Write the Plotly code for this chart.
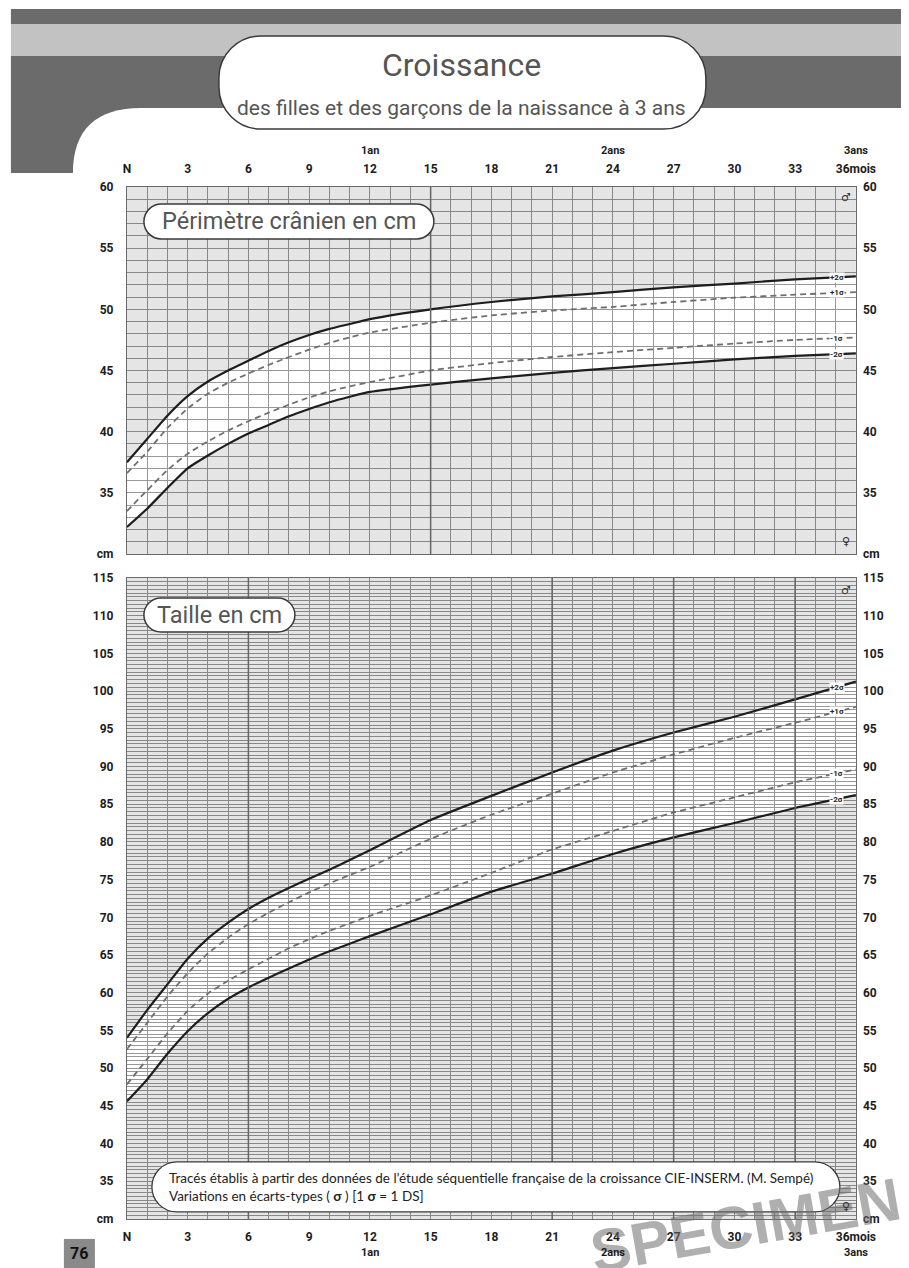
import numpy as np
import plotly.graph_objects as go

# Page-pixel positions below are those of the reference picture.
# Calibration measured on earlier renders: shown = 0.974*page + 3.3 (x), 0.989*page + 6.1 (y)
OFF = 8
SX, BX = 0.974, 3.3
SY, BY = 0.989, 6.1
W, H = 922, 1268

# ---------------- data ----------------
months = [0, 1, 2, 3, 4, 5, 6, 7, 8, 9, 10, 11, 12, 15, 18, 21, 24, 27, 30, 33, 36]

# Périmètre crânien (cm)
hc_p2 = [37.5, 39.4, 41.3, 42.9, 44.1, 45.0, 45.8, 46.6, 47.3, 47.9, 48.4, 48.8, 49.2, 50.0, 50.6, 51.05, 51.4, 51.8, 52.1, 52.45, 52.7]
hc_p1 = [36.6, 38.35, 40.3, 41.9, 43.1, 44.0, 44.75, 45.45, 46.1, 46.7, 47.25, 47.7, 48.1, 48.9, 49.5, 49.9, 50.2, 50.6, 50.95, 51.2, 51.4]
hc_m1 = [33.5, 35.2, 36.85, 38.2, 39.2, 40.1, 40.85, 41.55, 42.2, 42.8, 43.3, 43.7, 44.05, 45.0, 45.6, 46.1, 46.5, 46.85, 47.2, 47.5, 47.7]
hc_m2 = [32.2, 33.7, 35.4, 37.0, 38.05, 39.0, 39.85, 40.55, 41.25, 41.85, 42.4, 42.85, 43.25, 43.85, 44.35, 44.8, 45.2, 45.55, 45.9, 46.2, 46.4]

# Taille (cm)
ht_p2 = [54.0, 57.7, 61.1, 64.5, 67.2, 69.3, 71.1, 72.6, 73.9, 75.1, 76.3, 77.6, 78.9, 82.9, 86.1, 89.2, 92.1, 94.5, 96.6, 98.9, 101.25]
ht_p1 = [52.5, 56.0, 59.5, 62.6, 65.2, 67.3, 69.1, 70.6, 72.0, 73.3, 74.5, 75.6, 76.7, 80.4, 83.6, 86.4, 89.2, 91.6, 93.8, 95.8, 97.9]
ht_m1 = [47.85, 51.2, 54.6, 57.6, 59.9, 61.6, 63.1, 64.5, 65.9, 67.1, 68.2, 69.2, 70.2, 72.9, 75.9, 79.0, 81.45, 83.9, 85.9, 87.9, 89.6]
ht_m2 = [45.6, 48.5, 51.9, 54.9, 57.3, 59.2, 60.7, 62.0, 63.2, 64.4, 65.5, 66.5, 67.5, 70.4, 73.4, 75.8, 78.4, 80.6, 82.5, 84.5, 86.2]

x_tickvals = [0, 3, 6, 9, 12, 15, 18, 21, 24, 27, 30, 33, 36]
x_ticktext = ["N", "3", "6", "9", "12", "15", "18", "21", "24", "27", "30", "33", "36mois"]
year_marks = [12, 24, 36]
year_labels = ["1an", "2ans", "3ans"]

hc_range = [30, 60]
ht_range = [30, 115]
hc_tickvals = [30, 35, 40, 45, 50, 55, 60]
hc_ticktext = ["cm", "35", "40", "45", "50", "55", "60"]
ht_tickvals = list(range(30, 116, 5))
ht_ticktext = ["cm"] + [str(v) for v in range(35, 116, 5)]

sigma_labels = ["+2σ", "+1σ", "-1σ", "-2σ"]

# ---------------- helpers (layout, reference pixel -> paper) ----------------
def PX(x):
    return ((x - BX) / SX - OFF) / W

def PY(y):
    return 1 - ((y - BY) / SY - OFF) / H

def pt(x, y):
    return f"{PX(x):.5f},{PY(y):.5f}"

def rrect(x0, y0, x1, y1, r):
    k = 0.5523 * r
    return (f"M {pt(x0 + r, y0)} L {pt(x1 - r, y0)} "
            f"C {pt(x1 - r + k, y0)} {pt(x1, y0 + r - k)} {pt(x1, y0 + r)} "
            f"L {pt(x1, y1 - r)} "
            f"C {pt(x1, y1 - r + k)} {pt(x1 - r + k, y1)} {pt(x1 - r, y1)} "
            f"L {pt(x0 + r, y1)} "
            f"C {pt(x0 + r - k, y1)} {pt(x0, y1 - r + k)} {pt(x0, y1 - r)} "
            f"L {pt(x0, y0 + r)} "
            f"C {pt(x0, y0 + r - k)} {pt(x0 + r - k, y0)} {pt(x0 + r, y0)} Z")

PL, PR = 126, 855
TOP_T, TOP_B = 186, 553
BOT_T, BOT_B = 577, 1218

TICKFONT = dict(family="Roboto", size=12, color="#1c1c1c", weight="bold")
GRID = "#989898"
FILL_GRAY = "rgba(0,0,0,0.10)"
SMOOTH = 0.5

fig = go.Figure()

def add_chart(xa, ya, ya_r, series, rng):
    p2, p1, m1, m2 = series
    top = [rng[1]] * len(months)
    bot = [rng[0]] * len(months)
    fig.add_trace(go.Scatter(x=months, y=top, mode="lines", line=dict(width=0),
                             xaxis=xa, yaxis=ya, hoverinfo="skip", showlegend=False))
    fig.add_trace(go.Scatter(x=months, y=p2, mode="lines", line=dict(width=0, shape="spline", smoothing=SMOOTH),
                             fill="tonexty", fillcolor=FILL_GRAY,
                             xaxis=xa, yaxis=ya, hoverinfo="skip", showlegend=False))
    fig.add_trace(go.Scatter(x=months, y=m2, mode="lines", line=dict(width=0, shape="spline", smoothing=SMOOTH),
                             xaxis=xa, yaxis=ya, hoverinfo="skip", showlegend=False))
    fig.add_trace(go.Scatter(x=months, y=bot, mode="lines", line=dict(width=0),
                             fill="tonexty", fillcolor=FILL_GRAY,
                             xaxis=xa, yaxis=ya, hoverinfo="skip", showlegend=False))
    for vals, name in zip(series, sigma_labels):
        solid = name in ("+2σ", "-2σ")
        fig.add_trace(go.Scatter(
            x=months, y=vals, mode="lines", name=name, showlegend=False,
            line=dict(color="#1e1e1e" if solid else "#6f6f6f", width=2.2 if solid else 1.8,
                      dash="solid" if solid else "6px,4px", shape="spline", smoothing=SMOOTH),
            xaxis=xa, yaxis=ya))
        lx = 35.05
        ly = float(np.interp(lx, months, vals))
        fig.add_annotation(x=lx, y=ly, xref=xa, yref=ya, text=f"<b>{name}</b>", showarrow=False,
                           font=dict(family="Roboto", size=8, color="#222"),
                           bgcolor="white", borderpad=0)
    fig.add_trace(go.Scatter(x=months, y=p2, mode="lines", line=dict(width=0), opacity=0,
                             xaxis=xa, yaxis=ya_r, hoverinfo="skip", showlegend=False))

add_chart("x", "y", "y3", [hc_p2, hc_p1, hc_m1, hc_m2], hc_range)
add_chart("x2", "y2", "y4", [ht_p2, ht_p1, ht_m1, ht_m2], ht_range)

xdom = [PX(PL), PX(PR)]
top_dom = [PY(TOP_B), PY(TOP_T)]
bot_dom = [PY(BOT_B), PY(BOT_T)]

common_x = dict(range=[0, 36], domain=xdom, tickmode="array", tickvals=x_tickvals, ticktext=x_ticktext,
                showgrid=True, gridcolor=GRID, gridwidth=1, zeroline=False,
                showline=True, linecolor="#6a6a6a", linewidth=1, mirror=True,
                ticks="", tickfont=TICKFONT,
                minor=dict(tickmode="linear", tick0=0, dtick=1, showgrid=True, gridcolor=GRID, gridwidth=1))

fig.update_layout(
    width=W, height=H, margin=dict(l=0, r=0, t=0, b=0),
    paper_bgcolor="white", plot_bgcolor="white", showlegend=False,
    xaxis=dict(common_x, anchor="y", side="top", ticklabelstandoff=8),
    xaxis2=dict(common_x, anchor="y2", side="bottom", ticklabelstandoff=7),
    yaxis=dict(range=hc_range, domain=top_dom, anchor="x", tickmode="array",
               tickvals=hc_tickvals, ticktext=hc_ticktext, tickfont=TICKFONT,
               showgrid=True, gridcolor=GRID, gridwidth=1, zeroline=False, ticks="",
               showline=True, linecolor="#6a6a6a", mirror=True, ticklabelstandoff=10,
               minor=dict(tickmode="linear", tick0=30, dtick=1, showgrid=True, gridcolor=GRID, gridwidth=1)),
    yaxis3=dict(range=hc_range, overlaying="y", side="right", anchor="x", tickmode="array",
                tickvals=hc_tickvals, ticktext=hc_ticktext, tickfont=TICKFONT,
                showgrid=False, zeroline=False, ticks="", ticklabelstandoff=6),
    yaxis2=dict(range=ht_range, domain=bot_dom, anchor="x2", tickmode="array",
                tickvals=ht_tickvals, ticktext=ht_ticktext, tickfont=TICKFONT,
                showgrid=True, gridcolor=GRID, gridwidth=1, zeroline=False, ticks="",
                showline=True, linecolor="#6a6a6a", mirror=True, ticklabelstandoff=10,
                minor=dict(tickmode="linear", tick0=30, dtick=0.5, showgrid=True, gridcolor=GRID, gridwidth=1)),
    yaxis4=dict(range=ht_range, overlaying="y2", side="right", anchor="x2", tickmode="array",
                tickvals=ht_tickvals, ticktext=ht_ticktext, tickfont=TICKFONT,
                showgrid=False, zeroline=False, ticks="", ticklabelstandoff=6),
)

shapes = []
shapes.append(dict(type="rect", xref="paper", yref="paper", x0=PX(10), x1=1, y0=PY(23), y1=PY(8),
                   fillcolor="#6b6b6b", line=dict(width=0), layer="below"))
shapes.append(dict(type="rect", xref="paper", yref="paper", x0=PX(10), x1=1, y0=PY(55), y1=PY(23),
                   fillcolor="#c2c2c2", line=dict(width=0), layer="below"))
shapes.append(dict(type="rect", xref="paper", yref="paper", x0=PX(10), x1=1, y0=PY(172), y1=PY(55),
                   fillcolor="#6b6b6b", line=dict(width=0), layer="below"))
shapes.append(dict(type="path", xref="paper", yref="paper",
                   path=f"M {pt(72,174)} L {pt(72,172)} C {pt(72,128)} {pt(96,107)} {pt(140,107)} L {pt(940,107)} L {pt(940,174)} Z",
                   fillcolor="white", line=dict(width=0), layer="below"))
shapes.append(dict(type="path", xref="paper", yref="paper", path=rrect(218, 35, 705, 128, 42),
                   fillcolor="white", line=dict(color="#3a3a3a", width=1.5), layer="below"))
for m in [15]:
    shapes.append(dict(type="line", xref="x", yref="y domain", x0=m, x1=m, y0=0, y1=1,
                       line=dict(color="#666666", width=1.5), layer="above"))
for m in [6, 21, 27, 33]:
    shapes.append(dict(type="line", xref="x2", yref="y2 domain", x0=m, x1=m, y0=0, y1=1,
                       line=dict(color="#666666", width=1.5), layer="above"))
shapes.append(dict(type="path", xref="paper", yref="paper", path=rrect(143, 203, 433, 238, 17.5),
                   fillcolor="white", line=dict(color="#3a3a3a", width=1.5), layer="above"))
shapes.append(dict(type="path", xref="paper", yref="paper", path=rrect(143, 597, 294, 631, 17),
                   fillcolor="white", line=dict(color="#3a3a3a", width=1.5), layer="above"))
shapes.append(dict(type="path", xref="paper", yref="paper", path=rrect(151, 1161, 839, 1211, 25),
                   fillcolor="white", line=dict(color="#3a3a3a", width=1.3), layer="above"))
shapes.append(dict(type="rect", xref="paper", yref="paper", x0=PX(63), x1=PX(94), y0=0, y1=PY(1238),
                   fillcolor="#8a8a8a", line=dict(width=0), layer="above"))
fig.update_layout(shapes=shapes)

# watermark first so the other annotations sit above it
fig.add_annotation(x=PX(745), y=PY(1225), xref="paper", yref="paper", text="SPECIMEN", showarrow=False,
                   xanchor="center", yanchor="middle", textangle=-10,
                   font=dict(family="Liberation Sans", size=60, color="rgba(110,110,110,0.55)", weight="bold"))

def ann(x, y, text, size, color="#222", family="Roboto", xanchor="center", bold=False, **kw):
    fig.add_annotation(x=PX(x), y=PY(y), xref="paper", yref="paper", text=text, showarrow=False,
                       xanchor=xanchor, yanchor="middle",
                       font=dict(family=family, size=size, color=color, weight="bold" if bold else "normal"), **kw)

ann(461, 64, "Croissance", 32, color="#555555")
ann(461, 107, "des filles et des garçons de la naissance à 3 ans", 21, color="#555555")
ann(288, 220, "Périmètre crânien en cm", 23.5, color="#555555")
ann(219, 614, "Taille en cm", 23.5, color="#555555")
ann(166, 1177, "Tracés établis à partir des données de l’étude séquentielle française de la croissance CIE-INSERM. (M. Sempé)",
    13.5, color="#222", family="Lato", xanchor="left")
ann(166, 1195, "Variations en écarts-types ( <b>σ</b> ) [1 <b>σ</b> = 1 DS]", 13.5, color="#222", family="Lato", xanchor="left")

for m, lab in zip(year_marks, year_labels):
    xpix = PL + (PR - PL) * m / 36
    ann(xpix, 150, lab, 11, color="#1c1c1c", bold=True)
    ann(xpix, 1252, lab, 11, color="#1c1c1c", bold=True)

ann(845, 197, "♂", 11, color="#333", family="DejaVu Sans")
ann(845, 541, "♀", 11, color="#333", family="DejaVu Sans")
ann(845, 590, "♂", 11, color="#333", family="DejaVu Sans")
ann(845, 1206, "♀", 11, color="#333", family="DejaVu Sans")

ann(78, 1253, "76", 16, color="#111", bold=True)

fig.write_html("out.html")
